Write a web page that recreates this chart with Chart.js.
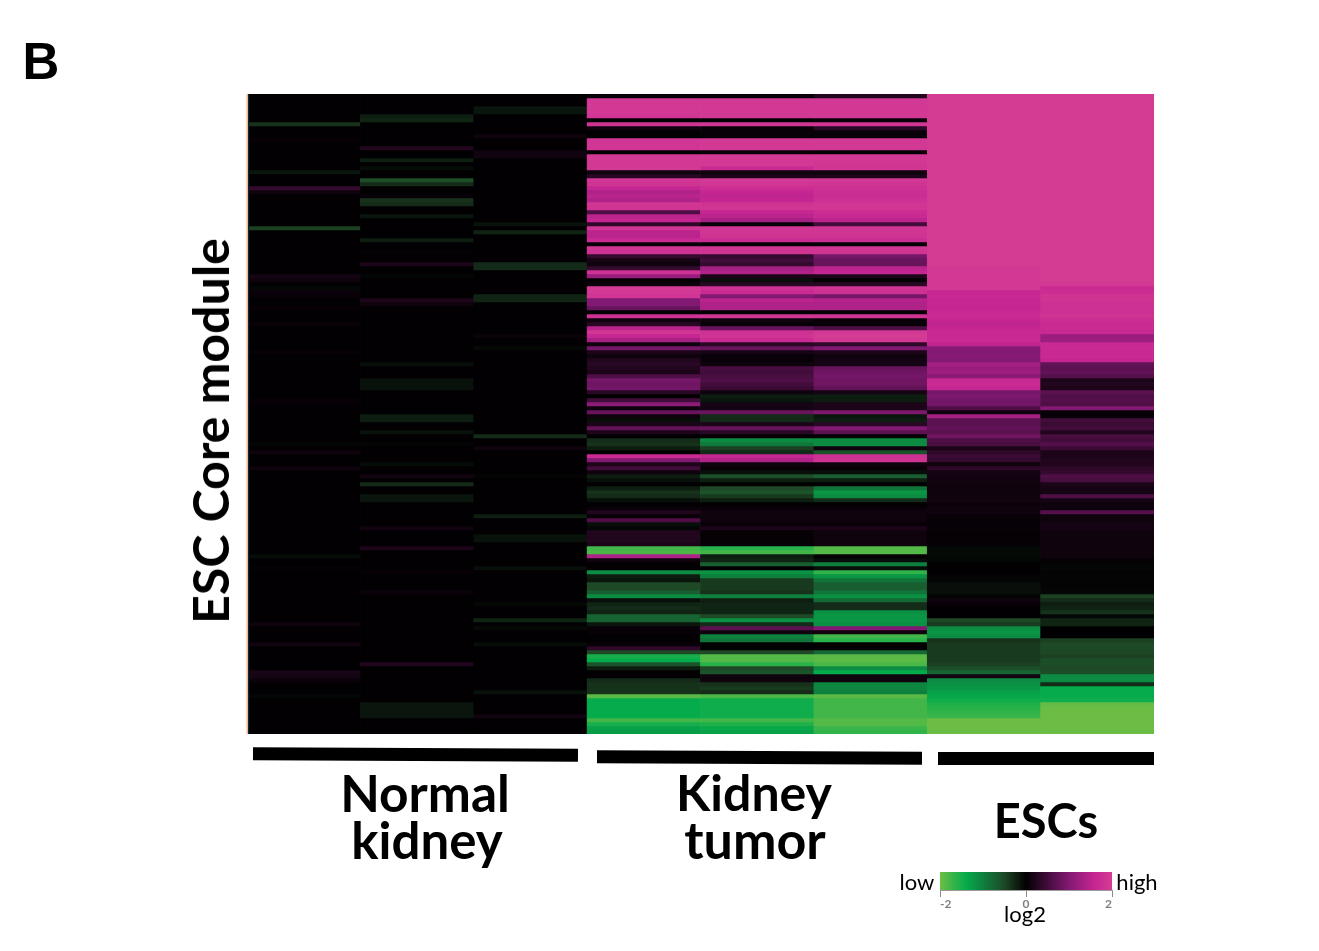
<!DOCTYPE html>
<html>
<head>
<meta charset="utf-8">
<title>ESC Core module heatmap</title>
<script src="https://cdn.jsdelivr.net/npm/chart.js@4"></script>
<style>
  html, body { margin: 0; padding: 0; background: #fff; }
  #stage { position: relative; width: 1319px; height: 951px; overflow: hidden; }
  #heat { position: absolute; left: 0; top: 0; }
  #scale { position: absolute; left: 900px; top: 872px; }
  .t { position: absolute; color: #000; white-space: nowrap; font-family: Lato, sans-serif; font-weight: 700; transform: translate(-50%, -50%); }
  .s { font-weight: 400; font-size: 22px; }
  .rule { position: absolute; background: #000; height: 12.5px; }
</style>
</head>
<body>
<div id="stage">
  <canvas id="heat" width="1319" height="951"></canvas>
  <canvas id="scale" width="252" height="40"></canvas>
  <div class="t" style="left:41px;top:61px;font:700 51px 'Liberation Sans',sans-serif">B</div>
  <div class="t" style="left:210px;top:431px;font-size:50px;transform:translate(-50%,-50%) rotate(-90deg)">ESC Core module</div>
  <div class="rule" style="left:253px;top:748px;width:325px;transform:rotate(0.3deg)"></div>
  <div class="rule" style="left:597px;top:750.5px;width:325px;transform:rotate(0.25deg)"></div>
  <div class="rule" style="left:938px;top:752px;width:216px"></div>
  <div class="t" style="left:425px;top:792px;font-size:51.5px">Normal</div>
  <div class="t" style="left:427px;top:839px;font-size:51px">kidney</div>
  <div class="t" style="left:754px;top:792px;font-size:50px">Kidney</div>
  <div class="t" style="left:755px;top:839px;font-size:52px">tumor</div>
  <div class="t" style="left:1046px;top:820px;font-size:47px">ESCs</div>
  <div class="t s" style="left:917px;top:881px">low</div>
  <div class="t s" style="left:1137px;top:881px">high</div>
  <div class="t s" style="left:1025px;top:913px">log2</div>
</div>
<script>
// Samples shown as columns of the heatmap
const sampleLabels = ['N1', 'N2', 'N3', 'T1', 'T2', 'T3', 'ESC1', 'ESC2'];

// log2 expression per sample, one value per gene, top to bottom
const normal1 = [
  0,0,0,0,0,0,0,-.35,0,0,
  0,.05,0,0,0,0,0,0,0,-.15,
  0,0,0,.4,.1,0,0,0,0,0,
  0,0,0,-.45,0,0,0,0,0,0,
  0,0,0,0,0,.15,.1,0,-.05,.08,
  .05,0,0,.05,0,0,0,.06,0,0,
  0,0,0,0,.05,0,0,0,0,0,
  0,0,0,0,0,0,.04,.04,0,0,
  0,0,0,0,0,0,0,-.04,0,.1,
  0,0,0,.1,0,0,0,0,0,0,
  0,0,0,0,0,0,0,0,0,0,
  0,0,0,0,0,-.08,0,0,.03,0,
  0,0,0,0,0,0,0,0,0,0,
  0,0,.1,0,0,0,0,.12,0,0,
  0,0,0,0,.18,.15,.08,0,0,0,
  -.05,0,0,0,0,0,0,0,0,0
];
const normal2 = [
  0,0,0,0,0,-.2,-.25,0,0,0,
  0,0,0,.25,0,0,-.2,0,-.08,0,
  0,-.55,-.3,0,0,.05,-.35,-.3,0,0,
  -.15,0,0,0,0,0,-.2,0,0,.03,
  0,0,.2,0,0,-.05,0,0,0,0,
  0,.2,.1,0,0,0,0,0,0,0,
  0,0,0,0,0,0,0,-.1,0,0,
  0,-.12,-.12,-.12,0,0,0,0,0,0,
  -.2,-.2,0,0,-.12,0,0,-.03,0,0,
  0,0,-.08,0,0,.12,0,-.3,0,0,
  -.15,-.15,0,0,0,0,0,0,.12,0,
  0,0,0,.2,0,0,0,0,0,.05,
  0,0,0,0,.08,0,0,0,0,0,
  0,0,0,0,0,0,0,0,0,0,
  0,0,.25,0,0,0,0,0,0,0,
  0,0,-.15,-.15,-.15,-.15,0,0,0,0
];
const normal3 = [
  0,0,0,-.15,-.15,0,0,0,0,0,
  .1,0,0,0,.12,.12,0,0,0,0,
  0,0,0,0,0,0,0,0,0,0,
  0,0,-.12,0,-.25,0,0,0,0,0,
  0,0,-.3,-.3,0,0,0,0,0,0,
  -.25,-.25,0,0,0,0,0,0,0,0,
  .07,0,0,-.07,0,0,0,0,0,0,
  0,0,0,0,0,0,0,0,0,0,
  0,0,0,0,0,-.3,0,0,.1,0,
  0,0,0,0,0,-.03,0,0,0,0,
  0,0,0,0,0,-.2,0,0,0,0,
  -.12,-.12,0,0,0,0,0,0,-.1,0,
  0,0,0,0,0,0,0,-.06,0,0,
  0,-.25,0,-.07,0,0,0,-.08,0,0,
  0,0,0,0,0,0,0,0,0,-.12,
  0,0,0,0,0,.12,0,0,0,0
];
const tumor1 = [
  .05,1.95,1.95,1.95,1.95,1.9,0,1.85,.1,0,
  0,1.9,1.9,1.9,0,1.95,1.95,1.95,1.95,.1,
  .3,1.9,1.85,1.6,1.4,1.5,1.4,1.9,1.85,.6,
  1.5,1.6,.35,1.9,1.5,1.5,1.7,.05,1.9,1.8,
  .4,.15,.1,.4,1.8,1.2,0,.1,2,1.95,
  1.9,1,1,.8,0,1.8,.1,.3,1.5,1.9,
  1.6,1.3,.1,.9,.2,.1,.25,.3,.25,.2,
  .6,.9,.85,.9,.3,0,.5,1.1,.1,.8,
  .1,-.1,.2,.75,.2,0,-.3,-.35,-.2,0,
  1.7,1,.2,.5,.1,-.2,-.1,0,-.2,-.35,
  -.3,-.1,0,.05,.25,.05,.6,-.1,-.05,.25,
  .25,.25,.2,-1.75,-1.8,1.4,.1,0,0,-1.1,
  -.2,-.15,-.5,-.5,-.7,-1.1,-.1,-.25,-.3,-.25,
  -.75,-.75,-.15,.05,.05,0,0,.05,.35,-.5,
  -1.5,-1.4,-.6,-.2,0,0,-.3,-.35,-.35,-.35,
  -1.9,-1.4,-1.4,-1.4,-1.4,-1.4,-1.75,-1.5,-1.3,-1.25
];
const tumor2 = [
  .05,1.95,1.95,1.95,1.95,1.95,0,1.9,.05,.05,
  .05,1.95,1.95,1.95,.05,1.95,1.95,1.95,1.7,.1,
  .2,1.95,1.9,1.75,1.6,1.55,1.6,1.85,1.9,1.6,
  1.5,1.3,.05,1.9,1.9,1.85,1.7,0,1.9,1.85,
  .4,.5,.4,1.3,1.4,.2,-.1,.3,1.8,1.7,
  1,1.5,1.4,1.4,0,1.9,.1,.05,.8,1.8,
  1.85,1.7,.3,.8,.15,.05,.05,.1,.55,.5,
  .55,.6,.5,.45,.1,-.2,-.15,.15,.15,.8,
  -.3,-.3,.2,.8,.3,0,-1.1,-.95,-.45,-.3,
  1.6,1.4,.1,.05,-.1,-.55,-.2,0,-.5,-.6,
  -.4,-.2,0,.05,.1,.1,.1,.05,.2,.03,
  .03,.03,.03,-1.6,-1.75,-.2,-.25,-.7,0,-1.15,
  -1,-.4,-.4,-.4,-.35,-1,-.2,-.25,-.25,-.25,
  -.5,-1.15,-.3,.7,.1,-1,-.9,0,0,-.5,
  -1.85,-1.85,-1.6,-.5,-.6,.1,.1,-.35,-.4,-.3,
  -1.8,-1.45,-1.45,-1.45,-1.45,-1.45,-1.75,-1.55,-1.35,-1.3
];
const tumor3 = [
  .25,1.95,1.95,1.95,1.95,1.95,.05,1.9,.3,.05,
  .05,1.95,1.95,1.95,.03,1.95,1.95,1.9,1.9,.1,
  .2,1.95,1.85,1.8,1.75,1.75,1.8,1.9,1.9,1.75,
  1.65,1.5,.5,1.9,1.9,1.85,1.75,0,1.9,1.85,
  .9,.8,.8,1.5,1.6,.2,0,.3,1.85,1.8,
  .9,1.45,1.4,1.4,0,1.85,.05,.05,.6,1.95,
  2,1.95,.35,1,.2,.1,.15,.15,.8,.85,
  .9,.85,.85,.75,.15,-.2,-.2,.2,.2,.95,
  -.15,-.2,.3,1,.7,0,-1.1,-1.1,.1,-.6,
  1.8,1.85,.1,.05,-.1,-.7,-.2,0,-.9,-1.2,
  -1.1,-.3,0,.05,.1,.1,.1,.05,.2,.1,
  .1,.1,.1,-1.85,-1.85,.05,-.1,-1,-.1,-1.65,
  -1.2,-.9,-.7,-.7,-.9,-1.15,-.8,-.3,-.3,-1.15,
  -1.2,-1.2,-1.15,1,.1,-1.75,-1.6,0,0,-.8,
  -1.9,-1.9,-1.8,-1.1,-1.4,.1,.1,-1.05,-1.05,-1,
  -1.9,-1.75,-1.75,-1.75,-1.75,-1.75,-1.85,-1.85,-1.7,-1.65
];
const esc1 = [
  2,2,2,2,2,2,2,2,2,2,
  2,2,2,2,2,2,2,2,2,2,
  2,2,2,2,2,2,2,2,2,2,
  2,2,2,2,2,2,2,2,2,2,
  2,2,2,1.95,1.95,1.95,1.95,1.95,1.95,1.6,
  1.65,1.6,1.6,1.6,1.65,1.7,1.6,1.55,1.6,1.65,
  1.65,1.7,1.55,1.05,1,1.05,1,1.3,1.2,1.25,
  1.05,1.65,1.7,1.6,.9,.95,.9,.9,.6,.1,
  1.3,.7,.7,.75,.7,.85,.6,.55,.2,.35,
  .45,.4,.1,.35,.15,.12,.12,.1,.1,.1,
  .1,.12,.08,.1,.1,.05,.03,.05,.05,.03,
  .03,.03,.03,-.06,-.07,-.07,-.05,0,0,0,
  -.03,-.03,-.1,-.1,-.1,-.03,.1,.05,0,0,
  0,-.5,-.4,-1.1,-1.2,-1.1,-.35,-.4,-.4,-.4,
  -.4,-.4,-.45,-.55,-.75,.15,-1.1,-1.15,-1.2,-1.3,
  -1.35,-1.45,-1.55,-1.6,-1.65,-1.7,-2,-2,-2,-2
];
const esc2 = [
  2,2,2,2,2,2,2,2,2,2,
  2,2,2,2,2,2,2,2,2,2,
  2,2,2,2,2,2,2,2,2,2,
  2,2,2,2,2,2,2,2,2,2,
  2,2,2,2,2,2,2,1.95,1.7,1.75,
  1.85,1.85,1.8,1.8,1.8,1.85,1.75,1.7,1.7,1.65,
  1.2,1.25,1.65,1.7,1.65,1.65,1.6,.75,.7,.75,
  .65,.2,.25,.2,.7,.6,.65,.6,1,.05,
  .05,.5,.45,.5,.25,.55,.5,.65,.45,.2,
  .2,.25,.25,.35,.4,.6,.55,.2,.15,.15,
  .6,.15,.1,.1,.65,.1,.1,.15,.15,.1,
  .1,.1,.1,.1,.1,.1,.03,-.03,-.05,-.03,
  -.03,-.03,-.03,-.03,-.05,-.45,-.3,-.2,-.25,-.35,
  -.05,-.25,-.25,0,0,0,-.45,-.5,-.5,-.5,
  -.45,-.55,-.55,-.5,-.55,-1.1,-1.1,-.3,-1.4,-1.4,
  -1.4,-1.45,-1.95,-2,-2,-2,-2,-2,-2,-2
];
const columns = [normal1, normal2, normal3, tumor1, tumor2, tumor3, esc1, esc2];

// Colour key range and its labelled ticks
const keyRange = [-2, 2];
const keyTicks = [-2, 0, 2];

// Green-black-magenta ramp: [log2 value, r, g, b]
const ramp = [
  [-2,   108, 189, 69],
  [-1.4,   6, 172, 76],
  [-1,    14, 128, 62],
  [-.5,   30,  72, 38],
  [0,      2,   0,  2],
  [1,    130,  25, 115],
  [1.6,  198,  38, 146],
  [2,    212,  60, 148]
];

function colourFor(v) {
  for (let i = 1; i < ramp.length; i++) {
    if (v <= ramp[i][0]) {
      const a = ramp[i - 1], b = ramp[i];
      const f = Math.max(0, (v - a[0]) / (b[0] - a[0]));
      return `rgb(${[1, 2, 3].map(k => Math.round(a[k] + (b[k] - a[k]) * f)).join(',')})`;
    }
  }
  return `rgb(${ramp[ramp.length - 1].slice(1).join(',')})`;
}

// One floating-bar dataset per gene row
const rowCount = normal1.length;
const datasets = [];
for (let r = 0; r < rowCount; r++) {
  datasets.push({
    data: columns.map(() => [r, r + 1]),
    backgroundColor: columns.map(c => colourFor(c[r])),
    grouped: false,
    borderWidth: 0,
    borderSkipped: false,
    barPercentage: 1,
    categoryPercentage: 1
  });
}

// Thin warm rule along the left edge of the matrix
const edgeRule = {
  id: 'edgeRule',
  afterDatasetsDraw(chart) {
    const { ctx, chartArea: a } = chart;
    ctx.save();
    ctx.fillStyle = '#f6b797';
    ctx.fillRect(a.left - 0.5, a.top, 1.5, a.height);
    ctx.fillStyle = '#0b2a2c';
    ctx.fillRect(a.left + 1, a.top, 1.2, a.height);
    ctx.restore();
  }
};

new Chart(document.getElementById('heat'), {
  type: 'bar',
  data: { labels: sampleLabels, datasets },
  plugins: [edgeRule],
  options: {
    responsive: false,
    animation: false,
    events: [],
    layout: { padding: { left: 247, right: 165, top: 94, bottom: 217 } },
    plugins: { legend: { display: false }, tooltip: { enabled: false } },
    scales: {
      x: { display: false, offset: true, grid: { display: false } },
      y: { display: false, reverse: true, min: 0, max: rowCount, grid: { display: false } }
    }
  }
});

// Horizontal colour key with its log2 axis
new Chart(document.getElementById('scale'), {
  type: 'bar',
  data: {
    labels: ['key'],
    datasets: [{
      data: [keyRange],
      borderWidth: 0,
      borderSkipped: false,
      barPercentage: 1,
      categoryPercentage: 1,
      backgroundColor(ctx) {
        const a = ctx.chart.chartArea;
        if (!a) return '#000';
        const g = ctx.chart.ctx.createLinearGradient(a.left, 0, a.right, 0);
        ramp.forEach(s => g.addColorStop((s[0] - keyRange[0]) / (keyRange[1] - keyRange[0]), colourFor(s[0])));
        return g;
      }
    }]
  },
  options: {
    indexAxis: 'y',
    responsive: false,
    animation: false,
    events: [],
    layout: { padding: { left: 40, right: 40, top: 0, bottom: 0 } },
    plugins: { legend: { display: false }, tooltip: { enabled: false } },
    scales: {
      y: { display: false },
      x: {
        type: 'linear',
        min: keyRange[0],
        max: keyRange[1],
        afterBuildTicks(s) { s.ticks = keyTicks.map(value => ({ value })); },
        afterFit(s) { s.height = 22; },
        border: { color: '#9a9a9a', width: 1 },
        grid: { display: true, drawOnChartArea: false, drawTicks: true, tickLength: 7, color: '#8a8a8a' },
        ticks: { padding: 0, align: 'inner', maxRotation: 0, autoSkip: false, color: '#808080', font: { family: 'Lato', size: 12, weight: '700' } }
      }
    }
  }
});
</script>
</body>
</html>
